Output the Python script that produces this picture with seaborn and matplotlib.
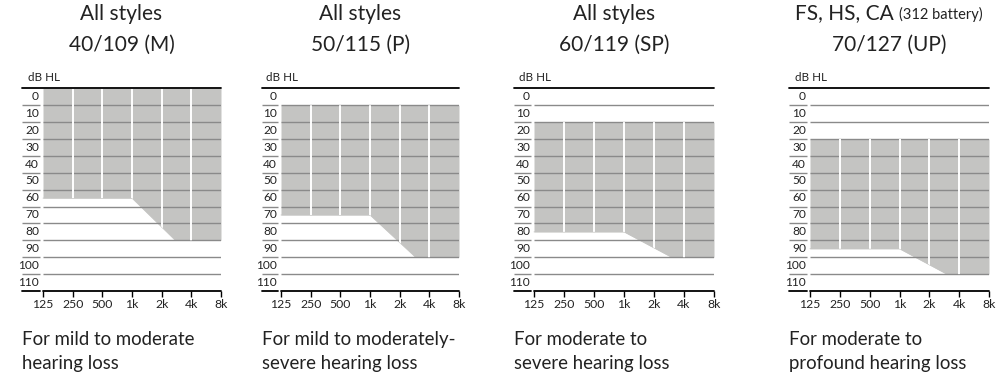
import numpy as np
import matplotlib
matplotlib.use("Agg")
import matplotlib.pyplot as plt
import seaborn as sns

# ---- data ----
title_line1 = ["All styles", "All styles", "All styles", "FS, HS, CA"]
title_note = ["", "", "", "(312 battery)"]
title_line2 = ["40/109 (M)", "50/115 (P)", "60/119 (SP)", "70/127 (UP)"]
desc_line1 = ["For mild to moderate", "For mild to moderately-", "For moderate to", "For moderate to"]
desc_line2 = ["hearing loss", "severe hearing loss", "severe hearing loss", "profound hearing loss"]

freq_ticks = [125, 250, 500, 1000, 2000, 4000, 8000]
freq_labels = ["125", "250", "500", "1k", "2k", "4k", "8k"]
db_ticks = [0, 10, 20, 30, 40, 50, 60, 70, 80, 90, 100, 110]

fit_top = [0, 10, 20, 30]          # upper edge of fitting range (dB HL)
fit_low_freq = [65, 75, 85, 95]    # lower edge at 125 Hz - 1 kHz
fit_high_freq = [90, 100, 100, 110]  # lower edge at high frequencies
knee_freq = [2750, 2900, 3000, 3000]  # where the slope reaches the high-frequency level

# ---- layout (pixels of a 1005x386 figure) ----
W, H = 1005, 386
line_left = [22, 262, 514, 789]
plot_left = [43, 281, 534, 810]
plot_right = [221, 459, 714, 989]
y_top, y_bot = 88.3, 291.0

FILL = "#c4c4c2"
GRID = "#8a8a8a"
TXT = "#222222"

sns.set_theme(style="white")
plt.rcParams["font.family"] = ["Lato", "DejaVu Sans"]

fig = plt.figure(figsize=(W / 100, H / 100), dpi=100)

for i in range(4):
    oct_w = (plot_right[i] - plot_left[i]) / 6.0
    left_oct = -(plot_left[i] - line_left[i]) / oct_w
    ax = fig.add_axes([line_left[i] / W, 1 - y_bot / H,
                       (plot_right[i] - line_left[i]) / W, (y_bot - y_top) / H])
    ax.set_xscale("log", base=2)
    xmin = 125 * 2 ** left_oct
    ax.set_xlim(xmin, 8000)
    ax.set_ylim(120, 0)
    for s in ax.spines.values():
        s.set_visible(False)
    ax.set_facecolor("none")

    # fitting range
    f = np.array([125, 1000, knee_freq[i], 8000], dtype=float)
    lower = np.array([fit_low_freq[i], fit_low_freq[i], fit_high_freq[i], fit_high_freq[i]], dtype=float)
    poly = ax.fill_between(f, fit_top[i], lower, color=FILL, lw=0, zorder=1)
    sns.lineplot(x=f, y=lower, ax=ax, color=FILL, lw=0.6, zorder=1, legend=False)

    # grid lines (split: label column / plot area)
    gap_x = 125 * 2 ** (-0.09)
    for v in db_ticks[1:]:
        ax.plot([xmin, gap_x], [v, v], color=GRID, lw=1.0, zorder=2, solid_capstyle="butt")
        ax.plot([125, 8000], [v, v], color=GRID, lw=1.0, zorder=2, solid_capstyle="butt")
    ax.plot([xmin, 8000], [0, 0], color="black", lw=1.3, zorder=4, clip_on=False)
    ax.plot([xmin, gap_x], [120, 120], color="black", lw=1.3, zorder=4, clip_on=False)
    ax.plot([125, 8000], [120, 120], color="black", lw=1.3, zorder=4, clip_on=False)

    # white column separators inside the fitting range
    for fq in freq_ticks[1:-1]:
        ln, = ax.plot([fq, fq], [fit_top[i], 120], color="white", lw=1.4, zorder=3)
        ln.set_clip_path(poly.get_paths()[0], ax.transData)

    # y labels
    lab_x = 125 * 2 ** (-4.0 / oct_w)
    for v in db_ticks:
        ax.text(lab_x, v + 1.6, str(v), ha="right", va="top", fontsize=8.6, color=TXT)
    ax.text(125 * 2 ** (-15.0 / oct_w), -4.5, "dB HL", ha="left", va="baseline",
            fontsize=8.4, color=TXT, clip_on=False)

    # x ticks
    ax.set_xticks(freq_ticks)
    ax.set_xticklabels(freq_labels)
    ax.xaxis.set_minor_locator(matplotlib.ticker.NullLocator())
    ax.tick_params(axis="x", direction="out", length=4, width=1, color="black",
                   pad=1.5, labelsize=8.8, labelcolor=TXT, bottom=True)
    ax.set_yticks([])
    ax.set_xlabel("")
    ax.set_ylabel("")

    # titles
    cx = (line_left[i] + plot_right[i]) / 2 / W
    if title_note[i]:
        t1 = fig.text(0, 1 - 19.5 / H, title_line1[i] + " ", fontsize=15, color=TXT,
                      ha="left", va="baseline")
        t2 = fig.text(0, 1 - 19.5 / H, title_note[i], fontsize=10.5, color=TXT,
                      ha="left", va="baseline")
        fig.canvas.draw()
        r = fig.canvas.get_renderer()
        w1 = t1.get_window_extent(r).width
        w2 = t2.get_window_extent(r).width
        start = cx * W - (w1 + w2) / 2
        t1.set_x(start / W)
        t2.set_x((start + w1) / W)
    else:
        fig.text(cx, 1 - 19.5 / H, title_line1[i], fontsize=15, color=TXT,
                 ha="center", va="baseline")
    fig.text(cx, 1 - 51 / H, title_line2[i], fontsize=15, color=TXT,
             ha="center", va="baseline")

    # descriptions
    fig.text(line_left[i] / W, 1 - 345 / H, desc_line1[i], fontsize=13.4, color=TXT,
             ha="left", va="baseline")
    fig.text(line_left[i] / W, 1 - 369 / H, desc_line2[i], fontsize=13.4, color=TXT,
             ha="left", va="baseline")

fig.savefig("out.png", dpi=100, facecolor="white")
